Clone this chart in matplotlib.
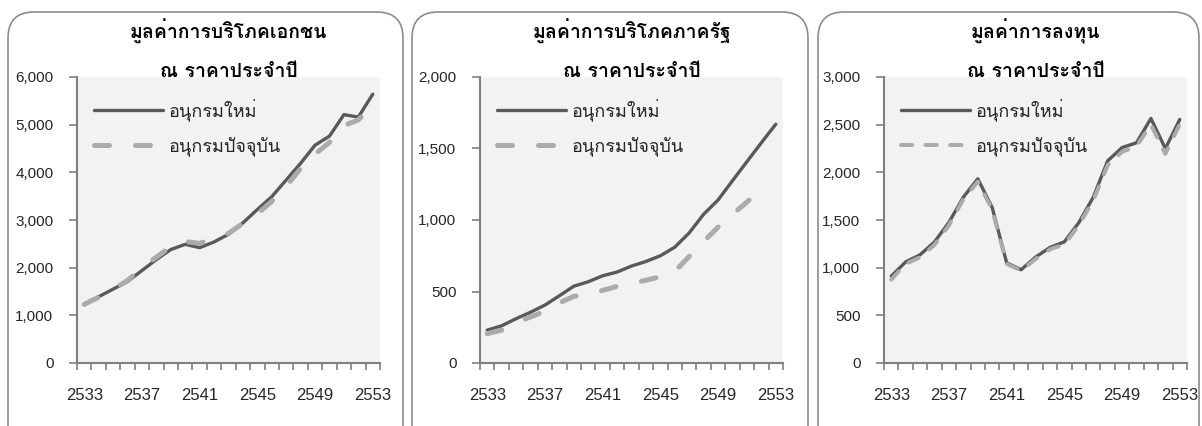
"""Three panels: national accounts, old vs new series (current prices)."""

import matplotlib
matplotlib.use("Agg")
import matplotlib.pyplot as plt
import numpy as np
from matplotlib.patches import FancyBboxPatch
from matplotlib.ticker import FuncFormatter, MultipleLocator

years = list(range(2533, 2554))
tick_years = [2533, 2537, 2541, 2545, 2549, 2553]
series_labels = ["อนุกรมใหม่", "อนุกรมปัจจุบัน"]

titles = [
    "มูลค่าการบริโภคเอกชน",
    "มูลค่าการบริโภคภาครัฐ",
    "มูลค่าการลงทุน",
]
subtitle = "ณ ราคาประจำปี"

private_new = [1240, 1390, 1550, 1710, 1940, 2170, 2380, 2490, 2420, 2540, 2700,
               2940, 3220, 3490, 3840, 4190, 4570, 4760, 5210, 5160, 5640]
private_old = [1230, 1380, 1545, 1730, 2000, 2220, 2440, 2550, 2510, 2620, 2720,
               2930, 3130, 3390, 3710, 4080, 4380, 4630, 4980, 5100, 5420]

gov_new = [230, 260, 310, 355, 405, 470, 537, 568, 610, 636, 678,
           710, 750, 810, 910, 1040, 1140, 1275, 1408, 1540, 1670]
gov_old = [205, 230, 284, 322, 362, 420, 466, 480, 508, 536, 558,
           578, 604, 640, 745, 850, 950, 1040, 1125, 1220, np.nan]

inv_new = [910, 1060, 1135, 1270, 1475, 1740, 1932, 1630, 1052, 978, 1110,
           1212, 1271, 1472, 1738, 2120, 2260, 2310, 2565, 2250, 2555]
inv_old = [875, 1040, 1110, 1240, 1445, 1718, 1902, 1610, 1040, 970, 1090,
           1192, 1245, 1445, 1705, 2075, 2215, 2275, 2500, 2195, 2505]

y_max = [6000, 2000, 3000]
y_step = [1000, 500, 500]

plt.rcParams["font.family"] = ["Loma", "Liberation Sans", "DejaVu Sans"]

fig = plt.figure(figsize=(12.02, 4.26), dpi=100)

solid_c = "#595959"
dash_c = "#ABABAB"
spine_c = "#808080"

panels = [(private_new, private_old), (gov_new, gov_old), (inv_new, inv_old)]
ax_left = [77, 480, 884]
box_x = [(8, 403), (412, 808), (818, 1199)]
dash_style = [(3.6, (3.0, 5.2)), (3.6, (3.0, 5.2)), (2.9, (2.8, 3.3))]

x = np.arange(len(years))
for i, (new, old) in enumerate(panels):
    # rounded frame around the panel (runs off the bottom like the original)
    x0, x1 = box_x[i]
    box = FancyBboxPatch((x0 / 100, -0.3), (x1 - x0) / 100, (426 - 12) / 100 + 0.3,
                         boxstyle="round,pad=0,rounding_size=0.26",
                         transform=fig.dpi_scale_trans, facecolor="none",
                         edgecolor="#8c8c8c", linewidth=1.2, zorder=-2)
    fig.patches.append(box)

    ax = fig.add_axes([ax_left[i] / 1202, 63 / 426, 303 / 1202, 286 / 426])
    ax.set_facecolor("#F2F2F2")
    ax.plot(x, new, color=solid_c, lw=2.4, solid_capstyle="round",
            solid_joinstyle="round", label=series_labels[0], zorder=3)
    lw, dashes = dash_style[i]
    ax.plot(x, old, color=dash_c, lw=lw, dashes=dashes, dash_capstyle="round",
            dash_joinstyle="round", label=series_labels[1], zorder=4)

    ax.set_xlim(-0.5, len(years) - 0.5)
    ax.set_ylim(0, y_max[i])
    ax.yaxis.set_major_locator(MultipleLocator(y_step[i]))
    ax.yaxis.set_major_formatter(FuncFormatter(lambda v, p: f"{int(v):,}"))
    ax.set_xticks([years.index(t) for t in tick_years])
    ax.set_xticklabels([str(t) for t in tick_years])
    ax.set_xticks(np.arange(-0.5, len(years)), minor=True)
    ax.tick_params(axis="x", which="major", length=0, pad=18, labelsize=12,
                   labelcolor="#262626")
    ax.tick_params(axis="x", which="minor", length=5, width=1.2, color=spine_c,
                   direction="out")
    ax.tick_params(axis="y", length=6, width=1.2, color=spine_c, pad=11,
                   labelsize=11, labelcolor="#262626")
    for lab in ax.get_xticklabels() + ax.get_yticklabels():
        lab.set_fontfamily(["Liberation Sans", "DejaVu Sans"])
    for side in ["top", "right"]:
        ax.spines[side].set_visible(False)
    for side in ["left", "bottom"]:
        ax.spines[side].set_color(spine_c)
        ax.spines[side].set_linewidth(1.5)

    leg = ax.legend(loc="upper left", bbox_to_anchor=(0.056, 0.925), frameon=False,
                    fontsize=13, handlelength=3.8, handletextpad=0.35,
                    labelspacing=0.85, borderpad=0, borderaxespad=0)
    for t in leg.get_texts():
        t.set_color("#262626")

    # titles sit behind the plot area, which hides the foot of line two
    cx = (ax_left[i] + 151.5) / 1202
    fig.text(cx, 1 - 39 / 426, titles[i], ha="center", va="baseline",
             fontsize=14, fontweight="bold", zorder=-1)
    fig.text(cx, 1 - 77 / 426, subtitle, ha="center", va="baseline",
             fontsize=14, fontweight="bold", zorder=-1)

fig.savefig("out.png", dpi=100)
